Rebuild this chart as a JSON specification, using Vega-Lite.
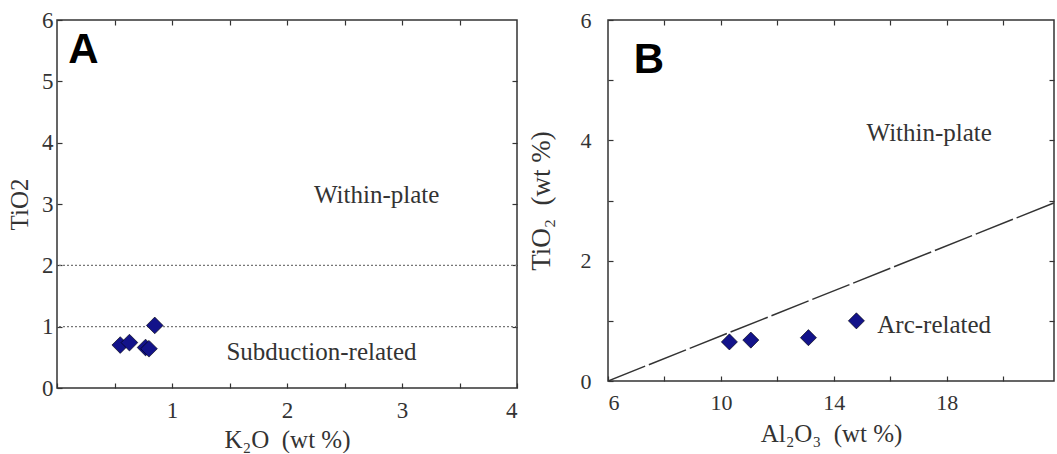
{
"$schema":"https://vega.github.io/schema/vega-lite/v6.json",
"background":"white",
"padding":{"left":6,"top":8,"right":0,"bottom":0},
"spacing":7,
"config":{"font":"Liberation Serif","view":{"stroke":"#333","strokeWidth":1.5},
 "axis":{"grid":false,"domain":false,"tickColor":"#333","tickSize":-5,"tickWidth":1.2,"labelFontSize":23,"labelColor":"#333","titleFontSize":25,"titleFontWeight":"normal","titleColor":"#333","labelFont":"Liberation Serif","titleFont":"Liberation Serif","format":"d"}},
"hconcat":[
 {"width":460,"height":368,
  "resolve":{"axis":{"x":"independent","y":"independent"}},
  "layer":[
   {"data":{"values":[{"y":1},{"y":2}]},
    "mark":{"type":"rule","strokeDash":[2,2],"color":"#777","strokeWidth":1.2},
    "encoding":{"y":{"field":"y","type":"quantitative","scale":{"domain":[0,6],"nice":false},"axis":{"values":[0,1,2,3,4,5,6],"title":"TiO2","titlePadding":9,"labelPadding":9}}}},
   {"data":{"values":[{"k2o":0.55,"tio2":0.70},{"k2o":0.63,"tio2":0.74},{"k2o":0.77,"tio2":0.66},{"k2o":0.80,"tio2":0.64},{"k2o":0.85,"tio2":1.02}]},
    "mark":{"type":"point","shape":"diamond","filled":true,"size":280,"color":"#13138a","stroke":"#000","strokeWidth":0.6,"opacity":1},
    "encoding":{"x":{"field":"k2o","type":"quantitative","scale":{"domain":[0,4],"nice":false},"axis":{"values":[0,0.5,1,1.5,2,2.5,3,3.5,4],"labelExpr":"datum.value>0 && datum.value%1===0 ? format(datum.value,'d') : ''","title":"K₂O\u00a0\u00a0(wt %)","titlePadding":5,"labelPadding":16}},
     "y":{"field":"tio2","type":"quantitative","axis":null}}},
   {"data":{"values":[{"k2o":0.55,"tio2":0.70}]},
    "mark":{"type":"point","opacity":0},
    "encoding":{"x":{"field":"k2o","type":"quantitative","axis":{"orient":"top","values":[0.5,1,1.5,2,2.5,3,3.5],"labels":false,"title":null}},
     "y":{"field":"tio2","type":"quantitative","axis":{"orient":"right","values":[1,2,3,4,5],"labels":false,"title":null}}}},
   {"data":{"values":[{"x":2.78,"y":3.15,"label":"Within-plate"},{"x":2.3,"y":0.59,"label":"Subduction-related"}]},
    "mark":{"type":"text","fontSize":25,"color":"#333","align":"center","baseline":"middle"},
    "encoding":{"x":{"field":"x","type":"quantitative","axis":null},"y":{"field":"y","type":"quantitative","axis":null},"text":{"field":"label"}}},
   {"data":{"values":[{"x":0.23,"y":5.51,"label":"A"}]},
    "mark":{"type":"text","fontSize":42,"font":"Liberation Sans","fontWeight":"bold","color":"#000","align":"center","baseline":"middle"},
    "encoding":{"x":{"field":"x","type":"quantitative","axis":null},"y":{"field":"y","type":"quantitative","axis":null},"text":{"field":"label"}}}
  ]},
 {"width":446,"height":361,
  "resolve":{"axis":{"x":"independent","y":"independent"}},
  "layer":[
   {"data":{"values":[{"al":6,"ti":0},{"al":21.8,"ti":2.96}]},
    "mark":{"type":"line","color":"#333","strokeWidth":1.5,"strokeDash":[40,4],"clip":true},
    "encoding":{"x":{"field":"al","type":"quantitative","scale":{"domain":[6,21.8],"nice":false},"axis":{"values":[6,8,10,12,14,16,18,20],"labelExpr":"(datum.value-6)%4===0 ? format(datum.value,'d') : ''","title":"Al₂O₃\u00a0\u00a0(wt %)","labelFontSize":22,"titleFontSize":25,"titlePadding":8,"labelPadding":16}},
     "y":{"field":"ti","type":"quantitative","scale":{"domain":[0,6],"nice":false},"axis":{"values":[0,1,2,3,4,5,6],"labelExpr":"datum.value%2===0 ? format(datum.value,'d') : ''","title":"TiO₂\u00a0\u00a0(wt %)","labelFontSize":22,"titleFontSize":27,"titlePadding":25,"labelPadding":22}}}},
   {"data":{"values":[{"al":10.3,"ti":0.65},{"al":11.06,"ti":0.68},{"al":13.1,"ti":0.72},{"al":14.8,"ti":1.0}]},
    "mark":{"type":"point","shape":"diamond","filled":true,"size":260,"color":"#13138a","stroke":"#000","strokeWidth":0.6,"opacity":1},
    "encoding":{"x":{"field":"al","type":"quantitative","axis":{"orient":"top","values":[8,10,12,14,16,18,20],"labels":false,"title":null}},
     "y":{"field":"ti","type":"quantitative","axis":{"orient":"right","values":[1,2,3,4,5],"labels":false,"title":null}}}},
   {"data":{"values":[{"x":17.38,"y":4.12,"label":"Within-plate"}]},
    "mark":{"type":"text","fontSize":25,"color":"#333","align":"center","baseline":"middle"},
    "encoding":{"x":{"field":"x","type":"quantitative","axis":null},"y":{"field":"y","type":"quantitative","axis":null},"text":{"field":"label"}}},
   {"data":{"values":[{"x":15.54,"y":0.93,"label":"Arc-related"}]},
    "mark":{"type":"text","fontSize":25,"color":"#333","align":"left","baseline":"middle"},
    "encoding":{"x":{"field":"x","type":"quantitative","axis":null},"y":{"field":"y","type":"quantitative","axis":null},"text":{"field":"label"}}},
   {"data":{"values":[{"x":7.45,"y":5.33,"label":"B"}]},
    "mark":{"type":"text","fontSize":42,"font":"Liberation Sans","fontWeight":"bold","color":"#000","align":"center","baseline":"middle"},
    "encoding":{"x":{"field":"x","type":"quantitative","axis":null},"y":{"field":"y","type":"quantitative","axis":null},"text":{"field":"label"}}}
  ]}
]
}
